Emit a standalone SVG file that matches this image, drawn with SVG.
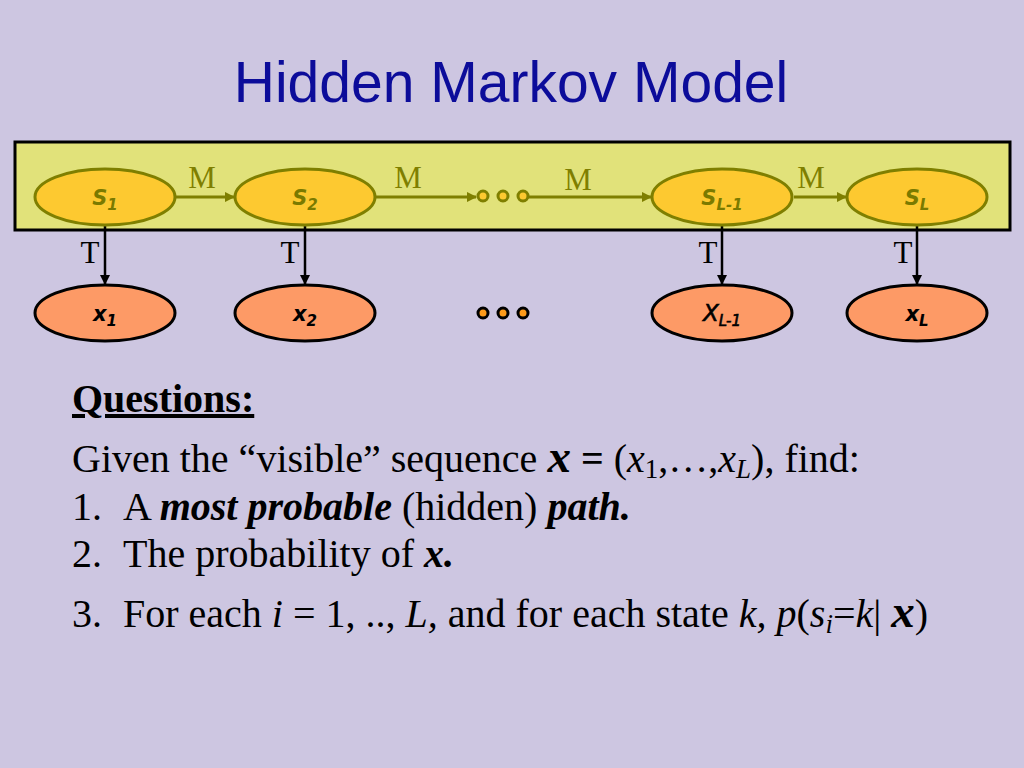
<svg xmlns="http://www.w3.org/2000/svg" width="1024" height="768" viewBox="0 0 1024 768">
<style>
.bg{fill:#cdc6e1}
.title{font-family:"Liberation Sans",Arial,sans-serif;font-size:57px;fill:#0c0c9a}
.band{fill:#e1e27a;stroke:#000;stroke-width:3}
.sn{fill:#fdc930;stroke:#7f7f00;stroke-width:3}
.xn{fill:#fd9a66;stroke:#000;stroke-width:3}
.sl{font-family:"DejaVu Sans",Verdana,sans-serif;font-style:italic;font-weight:bold;font-size:21px;fill:#7a7a00;text-anchor:middle}
.xl{font-family:"DejaVu Sans",Verdana,sans-serif;font-style:italic;font-weight:bold;font-size:21px;fill:#000;text-anchor:middle}
.sub{font-size:15px}
.m{font-family:"Liberation Serif","Times New Roman",serif;font-size:31px;fill:#7f7f00;text-anchor:middle}
.t{font-family:"Liberation Serif","Times New Roman",serif;font-size:31px;fill:#000;text-anchor:middle}
.ma{stroke:#7f7f00;stroke-width:3;fill:none}
.ta{stroke:#000;stroke-width:2.5;fill:none}
.sd{fill:#fdc930;stroke:#7f7f00;stroke-width:3}
.xd{fill:#fd9a1a;stroke:#000;stroke-width:3}
.body{font-family:"Liberation Serif","Times New Roman",serif;font-size:40px;fill:#000}
.bi{font-weight:bold;font-style:italic}
.it{font-style:italic}
.bx{font-weight:bold;font-style:italic;font-size:47px}
.sb{font-size:27px}
</style>
<defs>
<marker id="ao" viewBox="0 0 10 10" refX="9" refY="5" markerWidth="3.5" markerHeight="3.5" orient="auto" markerUnits="strokeWidth"><path d="M0,0 L10,5 L0,10 z" fill="#7f7f00"/></marker>
<marker id="ab" viewBox="0 0 10 10" refX="9" refY="5" markerWidth="4" markerHeight="4" orient="auto" markerUnits="strokeWidth"><path d="M0,0 L10,5 L0,10 z" fill="#000"/></marker>
</defs>
<rect class="bg" x="0" y="0" width="1024" height="768"/>
<text class="title" x="511" y="102" text-anchor="middle">Hidden Markov Model</text>
<rect class="band" x="15" y="142" width="995" height="88"/>

<g id="connectors">
<line class="ma" x1="176" y1="197" x2="234" y2="197" marker-end="url(#ao)"/>
<line class="ma" x1="376" y1="197" x2="476" y2="197" marker-end="url(#ao)"/>
<line class="ma" x1="528" y1="197" x2="651" y2="197" marker-end="url(#ao)"/>
<line class="ma" x1="794" y1="197" x2="846" y2="197" marker-end="url(#ao)"/>
<line class="ta" x1="105" y1="226" x2="105" y2="284" marker-end="url(#ab)"/>
<line class="ta" x1="305" y1="226" x2="305" y2="284" marker-end="url(#ab)"/>
<line class="ta" x1="722" y1="226" x2="722" y2="284" marker-end="url(#ab)"/>
<line class="ta" x1="917" y1="226" x2="917" y2="284" marker-end="url(#ab)"/>
<text class="m" x="202" y="188">M</text>
<text class="m" x="408" y="188">M</text>
<text class="m" x="578" y="190">M</text>
<text class="m" x="811" y="188">M</text>
<text class="t" x="90" y="263">T</text>
<text class="t" x="290" y="263">T</text>
<text class="t" x="708" y="263">T</text>
<text class="t" x="903" y="263">T</text>
</g>

<g id="s1"><ellipse class="sn" cx="105" cy="197" rx="70" ry="28"/><text class="sl" x="105" y="205">S<tspan class="sub" dy="5">1</tspan></text></g>
<g id="s2"><ellipse class="sn" cx="305" cy="197" rx="70" ry="28"/><text class="sl" x="305" y="205">S<tspan class="sub" dy="5">2</tspan></text></g>
<g id="sL1"><ellipse class="sn" cx="722" cy="197" rx="70" ry="28"/><text class="sl" x="722" y="205">S<tspan class="sub" dy="5">L-1</tspan></text></g>
<g id="sL"><ellipse class="sn" cx="917" cy="197" rx="70" ry="28"/><text class="sl" x="917" y="205">S<tspan class="sub" dy="5">L</tspan></text></g>
<g id="sdots"><circle class="sd" cx="483" cy="196" r="5"/><circle class="sd" cx="503" cy="196" r="5"/><circle class="sd" cx="523" cy="196" r="5"/></g>

<g id="x1"><ellipse class="xn" cx="105" cy="313" rx="70" ry="28"/><text class="xl" x="105" y="321">x<tspan class="sub" dy="5">1</tspan></text></g>
<g id="x2"><ellipse class="xn" cx="305" cy="313" rx="70" ry="28"/><text class="xl" x="305" y="321">x<tspan class="sub" dy="5">2</tspan></text></g>
<g id="xL1"><ellipse class="xn" cx="722" cy="313" rx="70" ry="28"/><text class="xl" x="722" y="321" style="font-weight:normal;font-size:23px;stroke:#000;stroke-width:0.6">X<tspan class="sub" dy="5">L-1</tspan></text></g>
<g id="xL"><ellipse class="xn" cx="917" cy="313" rx="70" ry="28"/><text class="xl" x="917" y="321">x<tspan class="sub" dy="5">L</tspan></text></g>
<g id="xdots"><circle class="xd" cx="483" cy="313" r="5"/><circle class="xd" cx="503" cy="313" r="5"/><circle class="xd" cx="523" cy="313" r="5"/></g>

<g id="questions">
<text class="body" x="72" y="412" font-weight="bold" text-decoration="underline">Questions:</text>
<text class="body" x="72" y="472">Given the “visible” sequence <tspan class="bx">x</tspan> <tspan font-weight="bold">=</tspan> (<tspan class="it">x</tspan><tspan class="sb" dy="6">1</tspan><tspan dy="-6">,…,</tspan><tspan class="it">x</tspan><tspan class="it sb" dy="6">L</tspan><tspan dy="-6">), find:</tspan></text>
<text class="body" x="72" y="520">1.</text>
<text class="body" x="123" y="520">A <tspan class="bi">most probable</tspan> (hidden) <tspan class="bi">path.</tspan></text>
<text class="body" x="72" y="567">2.</text>
<text class="body" x="123" y="567">The probability of <tspan class="bi">x.</tspan></text>
<text class="body" x="72" y="627">3.</text>
<text class="body" x="123" y="627">For each <tspan class="it">i</tspan> = 1, .., <tspan class="it">L,</tspan> and for each state <tspan class="it">k,</tspan> <tspan class="it">p</tspan>(<tspan class="it">s</tspan><tspan class="it sb" dy="6">i</tspan><tspan dy="-6">=</tspan><tspan class="it">k</tspan>| <tspan class="bx">x</tspan>)</text>
</g>
</svg>
